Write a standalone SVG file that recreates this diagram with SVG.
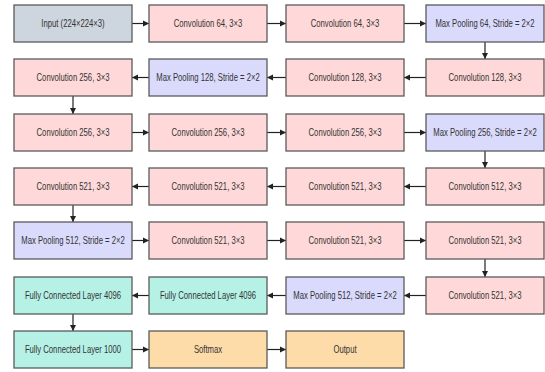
<svg xmlns="http://www.w3.org/2000/svg" width="545" height="372" viewBox="0 0 545 372">
<style>
rect{stroke:#5b5b5b;stroke-width:1.3}
.in{fill:#cdd5de}.cv{fill:#ffd9d9}.mp{fill:#dadafc}.fc{fill:#b6f1e6}.so{fill:#fddcaa}
text{font-family:"Liberation Sans",Arial,sans-serif;font-size:11px;fill:#333;text-anchor:middle}
.e line{stroke:#222;stroke-width:1.2;marker-end:url(#ah)}
</style>
<defs>
<marker id="ah" markerUnits="userSpaceOnUse" markerWidth="7" markerHeight="7" refX="6" refY="3.5" orient="auto">
<path d="M0,0.5 L6,3.5 L0,6.5 Z" fill="#222"/>
</marker>
</defs>
<rect width="545" height="372" fill="#fff" style="stroke:none"/>
<g class="e" id="connectors">
<line x1="132" y1="23.5" x2="149" y2="23.5"/>
<line x1="267" y1="23.5" x2="286" y2="23.5"/>
<line x1="404" y1="23.5" x2="426" y2="23.5"/>
<line x1="485" y1="42" x2="485" y2="59"/>
<line x1="426" y1="77.5" x2="404" y2="77.5"/>
<line x1="286" y1="77.5" x2="267" y2="77.5"/>
<line x1="149" y1="77.5" x2="132" y2="77.5"/>
<line x1="73" y1="96" x2="73" y2="114"/>
<line x1="132" y1="132.5" x2="149" y2="132.5"/>
<line x1="267" y1="132.5" x2="286" y2="132.5"/>
<line x1="404" y1="132.5" x2="426" y2="132.5"/>
<line x1="485" y1="151" x2="485" y2="168"/>
<line x1="426" y1="186.5" x2="404" y2="186.5"/>
<line x1="286" y1="186.5" x2="267" y2="186.5"/>
<line x1="149" y1="186.5" x2="132" y2="186.5"/>
<line x1="73" y1="205" x2="73" y2="222"/>
<line x1="132" y1="240.5" x2="149" y2="240.5"/>
<line x1="267" y1="240.5" x2="286" y2="240.5"/>
<line x1="404" y1="240.5" x2="426" y2="240.5"/>
<line x1="485" y1="259" x2="485" y2="277"/>
<line x1="426" y1="295.5" x2="404" y2="295.5"/>
<line x1="286" y1="295.5" x2="267" y2="295.5"/>
<line x1="149" y1="295.5" x2="132" y2="295.5"/>
<line x1="73" y1="314" x2="73" y2="331"/>
<line x1="132" y1="349.5" x2="149" y2="349.5"/>
<line x1="267" y1="349.5" x2="286" y2="349.5"/>
</g>
<g id="n1"><rect class="in" x="14" y="5" width="118" height="37"/><text transform="translate(73,23.5) scale(0.7,1)" dy="0.35em">Input (224×224×3)</text></g>
<g id="n2"><rect class="cv" x="149" y="5" width="118" height="37"/><text transform="translate(208,23.5) scale(0.7,1)" dy="0.35em">Convolution 64, 3×3</text></g>
<g id="n3"><rect class="cv" x="286" y="5" width="118" height="37"/><text transform="translate(345,23.5) scale(0.7,1)" dy="0.35em">Convolution 64, 3×3</text></g>
<g id="n4"><rect class="mp" x="426" y="5" width="118" height="37"/><text transform="translate(485,23.5) scale(0.7,1)" dy="0.35em">Max Pooling 64, Stride = 2×2</text></g>
<g id="n5"><rect class="cv" x="426" y="59" width="118" height="37"/><text transform="translate(485,77.5) scale(0.7,1)" dy="0.35em">Convolution 128, 3×3</text></g>
<g id="n6"><rect class="cv" x="286" y="59" width="118" height="37"/><text transform="translate(345,77.5) scale(0.7,1)" dy="0.35em">Convolution 128, 3×3</text></g>
<g id="n7"><rect class="mp" x="149" y="59" width="118" height="37"/><text transform="translate(208,77.5) scale(0.7,1)" dy="0.35em">Max Pooling 128, Stride = 2×2</text></g>
<g id="n8"><rect class="cv" x="14" y="59" width="118" height="37"/><text transform="translate(73,77.5) scale(0.7,1)" dy="0.35em">Convolution 256, 3×3</text></g>
<g id="n9"><rect class="cv" x="14" y="114" width="118" height="37"/><text transform="translate(73,132.5) scale(0.7,1)" dy="0.35em">Convolution 256, 3×3</text></g>
<g id="n10"><rect class="cv" x="149" y="114" width="118" height="37"/><text transform="translate(208,132.5) scale(0.7,1)" dy="0.35em">Convolution 256, 3×3</text></g>
<g id="n11"><rect class="cv" x="286" y="114" width="118" height="37"/><text transform="translate(345,132.5) scale(0.7,1)" dy="0.35em">Convolution 256, 3×3</text></g>
<g id="n12"><rect class="mp" x="426" y="114" width="118" height="37"/><text transform="translate(485,132.5) scale(0.7,1)" dy="0.35em">Max Pooling 256, Stride = 2×2</text></g>
<g id="n13"><rect class="cv" x="426" y="168" width="118" height="37"/><text transform="translate(485,186.5) scale(0.7,1)" dy="0.35em">Convolution 512, 3×3</text></g>
<g id="n14"><rect class="cv" x="286" y="168" width="118" height="37"/><text transform="translate(345,186.5) scale(0.7,1)" dy="0.35em">Convolution 521, 3×3</text></g>
<g id="n15"><rect class="cv" x="149" y="168" width="118" height="37"/><text transform="translate(208,186.5) scale(0.7,1)" dy="0.35em">Convolution 521, 3×3</text></g>
<g id="n16"><rect class="cv" x="14" y="168" width="118" height="37"/><text transform="translate(73,186.5) scale(0.7,1)" dy="0.35em">Convolution 521, 3×3</text></g>
<g id="n17"><rect class="mp" x="14" y="222" width="118" height="37"/><text transform="translate(73,240.5) scale(0.7,1)" dy="0.35em">Max Pooling 512, Stride = 2×2</text></g>
<g id="n18"><rect class="cv" x="149" y="222" width="118" height="37"/><text transform="translate(208,240.5) scale(0.7,1)" dy="0.35em">Convolution 521, 3×3</text></g>
<g id="n19"><rect class="cv" x="286" y="222" width="118" height="37"/><text transform="translate(345,240.5) scale(0.7,1)" dy="0.35em">Convolution 521, 3×3</text></g>
<g id="n20"><rect class="cv" x="426" y="222" width="118" height="37"/><text transform="translate(485,240.5) scale(0.7,1)" dy="0.35em">Convolution 521, 3×3</text></g>
<g id="n21"><rect class="cv" x="426" y="277" width="118" height="37"/><text transform="translate(485,295.5) scale(0.7,1)" dy="0.35em">Convolution 521, 3×3</text></g>
<g id="n22"><rect class="mp" x="286" y="277" width="118" height="37"/><text transform="translate(345,295.5) scale(0.7,1)" dy="0.35em">Max Pooling 512, Stride = 2×2</text></g>
<g id="n23"><rect class="fc" x="149" y="277" width="118" height="37"/><text transform="translate(208,295.5) scale(0.7,1)" dy="0.35em">Fully Connected Layer 4096</text></g>
<g id="n24"><rect class="fc" x="14" y="277" width="118" height="37"/><text transform="translate(73,295.5) scale(0.7,1)" dy="0.35em">Fully Connected Layer 4096</text></g>
<g id="n25"><rect class="fc" x="14" y="331" width="118" height="37"/><text transform="translate(73,349.5) scale(0.7,1)" dy="0.35em">Fully Connected Layer 1000</text></g>
<g id="n26"><rect class="so" x="149" y="331" width="118" height="37"/><text transform="translate(208,349.5) scale(0.7,1)" dy="0.35em">Softmax</text></g>
<g id="n27"><rect class="so" x="286" y="331" width="118" height="37"/><text transform="translate(345,349.5) scale(0.7,1)" dy="0.35em">Output</text></g>
</svg>
